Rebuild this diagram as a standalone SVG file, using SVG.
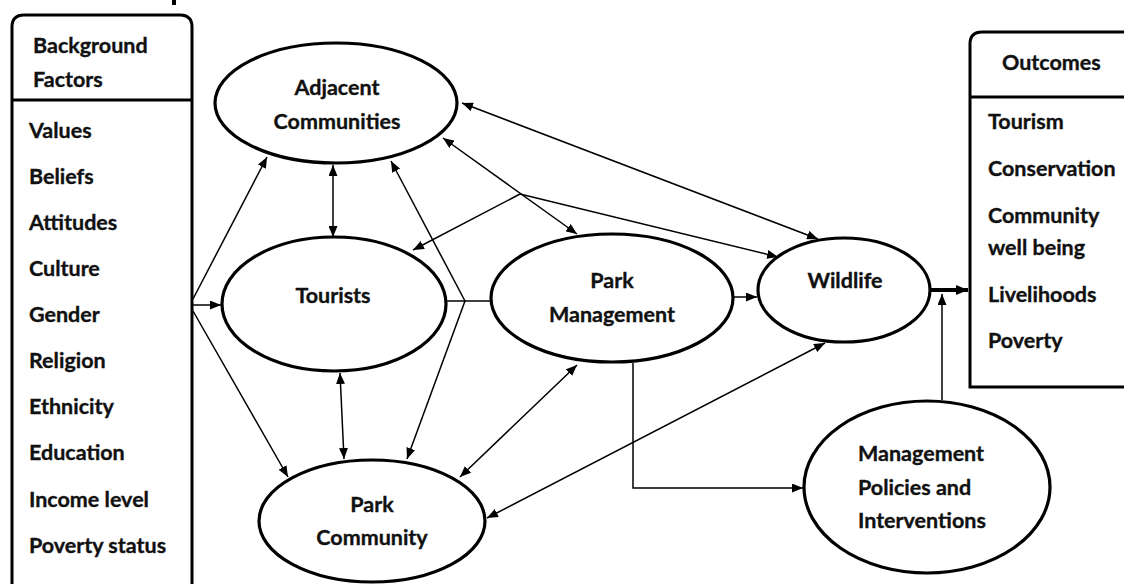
<svg xmlns="http://www.w3.org/2000/svg" width="1124" height="584" viewBox="0 0 1124 584">
<style>
  .t{font-family:Lato,"Liberation Sans",sans-serif;font-weight:bold;font-size:21.5px;fill:#111;stroke:#111;stroke-width:0.35}
  .c{text-anchor:middle}
  .box{fill:none;stroke:#000;stroke-width:3}
  .ell{fill:#fff;stroke:#000;stroke-width:3.2}
  .ln{fill:none;stroke:#000;stroke-width:1.5}
</style>
<defs>
  <marker id="ah" markerUnits="userSpaceOnUse" markerWidth="11" markerHeight="9" refX="11" refY="4.5" orient="auto-start-reverse" viewBox="0 0 11 9">
    <path d="M0,0 L11,4.5 L0,9 z" fill="#000"/>
  </marker>
  <marker id="ahb" markerUnits="userSpaceOnUse" markerWidth="12" markerHeight="10" refX="12" refY="5" orient="auto" viewBox="0 0 12 10">
    <path d="M0,0 L12,5 L0,10 z" fill="#000"/>
  </marker>
</defs>
<rect width="1124" height="584" fill="#fff"/>
<rect x="172" y="0" width="4" height="5" fill="#000"/>

<g id="background-factors">
  <path class="box" d="M12,590 V27 Q12,15 24,15 H180 Q192,15 192,27 V590"/>
  <line class="box" x1="12" y1="100" x2="192" y2="100"/>
  <text class="t" x="33" y="53">Background</text>
  <text class="t" x="33" y="87">Factors</text>
  <text class="t" x="29" y="138">Values</text>
  <text class="t" x="29" y="184">Beliefs</text>
  <text class="t" x="29" y="230">Attitudes</text>
  <text class="t" x="29" y="276">Culture</text>
  <text class="t" x="29" y="322">Gender</text>
  <text class="t" x="29" y="368">Religion</text>
  <text class="t" x="29" y="414">Ethnicity</text>
  <text class="t" x="29" y="460">Education</text>
  <text class="t" x="29" y="507">Income level</text>
  <text class="t" x="29" y="553">Poverty status</text>
</g>

<g id="outcomes">
  <path class="box" d="M1130,32 H982 Q970,32 970,44 V387 H1130"/>
  <line class="box" x1="970" y1="97" x2="1130" y2="97"/>
  <text class="t" x="1002" y="70">Outcomes</text>
  <text class="t" x="988" y="129">Tourism</text>
  <text class="t" x="988" y="176">Conservation</text>
  <text class="t" x="988" y="223">Community</text>
  <text class="t" x="988" y="255">well being</text>
  <text class="t" x="988" y="302">Livelihoods</text>
  <text class="t" x="988" y="348">Poverty</text>
</g>

<g id="connectors">
  <path class="ln" d="M193,299 L267,157" marker-end="url(#ah)"/>
  <path class="ln" d="M193,305 L221,305" marker-end="url(#ah)"/>
  <path class="ln" d="M193,311 L288,477" marker-end="url(#ah)"/>
  <path class="ln" d="M333,165 L333,237" marker-start="url(#ah)" marker-end="url(#ah)"/>
  <path class="ln" d="M340,373 L344,459" marker-start="url(#ah)" marker-end="url(#ah)"/>
  <path class="ln" d="M446,301 L492,301"/>
  <path class="ln" d="M465,301 L391,161" marker-end="url(#ah)"/>
  <path class="ln" d="M465,301 L407,459" marker-end="url(#ah)"/>
  <path class="ln" d="M443,138 L577,234" marker-start="url(#ah)" marker-end="url(#ah)"/>
  <path class="ln" d="M462,103 L818,239" marker-start="url(#ah)" marker-end="url(#ah)"/>
  <path class="ln" d="M520,194 L413,250" marker-end="url(#ah)"/>
  <path class="ln" d="M520,194 L778,257" marker-end="url(#ah)"/>
  <path class="ln" d="M733,297 L757,297" marker-end="url(#ah)"/>
  <path class="ln" d="M460,477 L577,365" marker-start="url(#ah)" marker-end="url(#ah)"/>
  <path class="ln" d="M487,518 L825,343" marker-start="url(#ah)" marker-end="url(#ah)"/>
  <path class="ln" d="M633,363 V488 H803" marker-end="url(#ah)"/>
  <path class="ln" d="M942,400 V294" marker-end="url(#ah)"/>
  <path fill="none" stroke="#000" stroke-width="4" d="M930,290 H968" marker-end="url(#ahb)"/>
</g>

<g id="adjacent-communities">
  <ellipse class="ell" cx="336" cy="103" rx="121" ry="60"/>
  <text class="t c" x="337" y="95">Adjacent</text>
  <text class="t c" x="337" y="129">Communities</text>
</g>
<g id="tourists">
  <ellipse class="ell" cx="334" cy="304" rx="112" ry="67"/>
  <text class="t c" x="333" y="303">Tourists</text>
</g>
<g id="park-management">
  <ellipse class="ell" cx="612" cy="298" rx="121" ry="64"/>
  <text class="t c" x="612" y="288">Park</text>
  <text class="t c" x="612" y="322">Management</text>
</g>
<g id="wildlife">
  <ellipse class="ell" cx="844" cy="290" rx="86" ry="52"/>
  <text class="t c" x="845" y="288">Wildlife</text>
</g>
<g id="park-community">
  <ellipse class="ell" cx="372" cy="521" rx="113" ry="61"/>
  <text class="t c" x="372" y="512">Park</text>
  <text class="t c" x="372" y="545">Community</text>
</g>
<g id="management-policies">
  <ellipse class="ell" cx="927" cy="487" rx="123" ry="86"/>
  <text class="t" x="858" y="461">Management</text>
  <text class="t" x="858" y="495">Policies and</text>
  <text class="t" x="858" y="528">Interventions</text>
</g>
</svg>
